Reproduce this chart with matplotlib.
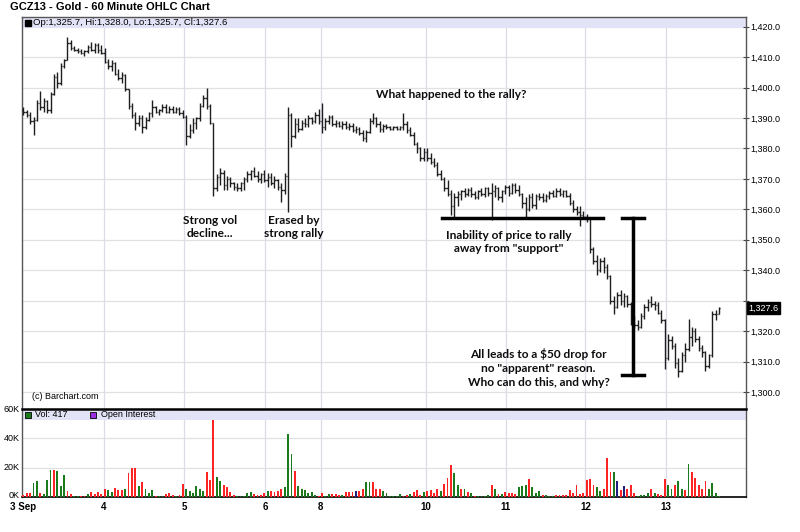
import numpy as np
import matplotlib.pyplot as plt
from matplotlib.collections import LineCollection
from matplotlib.patches import Rectangle
import matplotlib.transforms as mtransforms

# hourly OHLC, one entry per bar (bar index = x position)
opens = [1392.5, 1392.0, 1391.0, 1389.0, 1389.5, 1395.0, 1393.5, 1395.5, 1392.5, 1398.0,
         1403.5, 1401.5, 1407.0, 1409.0, 1414.5, 1413.0, 1412.5, 1412.0, 1411.5, 1412.0,
         1413.5, 1412.5, 1414.0, 1412.5, 1411.5, 1408.5, 1407.0, 1408.0, 1404.5, 1403.0,
         1404.0, 1399.5, 1394.0, 1391.0, 1388.5, 1390.0, 1387.0, 1389.5, 1391.5, 1393.5,
         1392.0, 1392.5, 1393.5, 1392.0, 1393.0, 1392.0, 1393.0, 1391.5, 1390.5, 1384.0,
         1386.0, 1388.5, 1390.0, 1394.0, 1396.5, 1394.0, 1388.5, 1367.0, 1370.5, 1372.0,
         1368.0, 1370.0, 1368.5, 1367.5, 1367.0, 1368.5, 1370.0, 1371.5, 1372.5, 1371.0,
         1370.0, 1371.5, 1369.5, 1370.5, 1368.5, 1369.5, 1367.5, 1366.5, 1371.0, 1391.0,
         1384.0, 1388.0, 1386.5, 1388.5, 1388.0, 1390.0, 1389.0, 1391.0, 1389.0, 1387.0,
         1389.0, 1390.5, 1388.0, 1388.5, 1387.5, 1388.0, 1387.0, 1387.5, 1386.0, 1386.5,
         1385.0, 1383.5, 1385.5, 1389.0, 1390.0, 1388.0, 1386.5, 1387.5, 1387.0, 1386.5,
         1387.0, 1386.5, 1387.0, 1388.0, 1386.0, 1384.5, 1381.5, 1380.0, 1377.0, 1379.0,
         1377.0, 1375.5, 1374.5, 1371.5, 1370.0, 1367.0, 1365.0, 1361.0, 1364.0, 1365.0,
         1366.0, 1365.0, 1366.5, 1365.0, 1364.0, 1366.0, 1365.0, 1367.0, 1365.5, 1366.0,
         1367.0, 1364.0, 1366.0, 1367.5, 1365.5, 1368.0, 1366.5, 1365.0, 1362.0, 1360.0,
         1364.0, 1361.5, 1364.5, 1364.0, 1363.0, 1364.5, 1365.5, 1364.5, 1366.0, 1365.0,
         1366.0, 1364.5, 1362.0, 1360.0, 1359.0, 1358.0, 1357.5, 1357.0, 1347.0, 1343.0,
         1340.0, 1343.0, 1341.0, 1338.0, 1330.0, 1328.0, 1332.0, 1330.0, 1331.5, 1329.0,
         1323.0, 1322.0, 1321.5, 1325.0, 1328.0, 1329.5, 1329.0, 1328.5, 1326.0, 1323.5,
         1311.0, 1317.0, 1315.0, 1309.5, 1307.0, 1312.0, 1314.0, 1318.0, 1320.0, 1317.5,
         1314.5, 1313.0, 1308.5, 1312.0, 1325.5, 1325.7]
highs = [1393.5, 1392.8, 1392.0, 1390.5, 1396.0, 1399.0, 1396.5, 1396.0, 1398.5, 1404.5,
         1405.0, 1408.0, 1409.5, 1416.5, 1415.5, 1413.8, 1413.0, 1412.8, 1412.5, 1414.0,
         1415.0, 1414.5, 1414.5, 1414.0, 1413.0, 1409.5, 1409.0, 1408.5, 1406.0, 1405.0,
         1404.5, 1399.5, 1395.0, 1392.0, 1391.0, 1391.0, 1390.5, 1392.0, 1396.0, 1394.0,
         1393.0, 1394.5, 1394.5, 1394.0, 1394.0, 1393.5, 1393.5, 1392.5, 1391.0, 1388.0,
         1390.0, 1390.5, 1395.0, 1397.5, 1400.0, 1394.5, 1388.5, 1371.5, 1373.5, 1373.0,
         1371.0, 1370.5, 1369.0, 1368.5, 1369.0, 1370.5, 1372.5, 1373.0, 1374.0, 1372.5,
         1372.0, 1373.0, 1372.0, 1372.0, 1371.0, 1370.0, 1368.5, 1372.0, 1393.5, 1391.5,
         1390.0, 1390.0, 1389.5, 1390.0, 1391.0, 1390.5, 1392.0, 1393.0, 1395.0, 1390.0,
         1391.0, 1391.0, 1389.5, 1389.0, 1389.0, 1389.0, 1388.5, 1388.5, 1387.5, 1387.0,
         1386.0, 1386.0, 1390.0, 1391.5, 1390.5, 1389.0, 1388.0, 1388.0, 1387.5, 1387.5,
         1387.5, 1387.5, 1391.5, 1389.0, 1387.0, 1385.5, 1382.0, 1380.5, 1380.0, 1380.0,
         1378.5, 1377.0, 1375.5, 1373.0, 1370.5, 1369.5, 1366.5, 1365.5, 1366.0, 1366.5,
         1367.0, 1367.0, 1367.5, 1366.0, 1366.5, 1367.0, 1367.5, 1367.5, 1368.5, 1368.0,
         1367.5, 1366.5, 1368.0, 1368.0, 1368.5, 1368.5, 1368.0, 1365.5, 1364.0, 1365.0,
         1365.5, 1365.0, 1365.5, 1365.5, 1365.0, 1366.0, 1366.5, 1367.0, 1367.0, 1366.5,
         1366.5, 1365.5, 1363.0, 1361.0, 1361.0, 1359.5, 1358.5, 1357.0, 1347.5, 1345.0,
         1344.0, 1344.5, 1342.0, 1338.5, 1331.5, 1333.0, 1333.5, 1332.5, 1332.0, 1329.5,
         1325.0, 1323.5, 1326.0, 1329.0, 1330.5, 1331.5, 1330.0, 1329.5, 1327.0, 1324.0,
         1319.0, 1318.5, 1316.0, 1311.0, 1313.0, 1316.0, 1324.0, 1321.5, 1321.0, 1318.5,
         1315.5, 1313.5, 1312.5, 1326.5, 1327.0, 1328.0]
lows = [1391.0, 1390.5, 1388.0, 1384.5, 1389.0, 1392.5, 1392.0, 1391.5, 1391.5, 1397.5,
        1400.0, 1401.0, 1406.5, 1409.0, 1412.5, 1412.0, 1411.5, 1411.0, 1410.5, 1411.5,
        1412.0, 1411.5, 1411.5, 1411.0, 1408.0, 1406.0, 1405.5, 1404.0, 1402.5, 1401.5,
        1399.0, 1393.0, 1390.0, 1386.0, 1387.5, 1385.0, 1386.5, 1389.0, 1390.5, 1391.5,
        1391.0, 1392.0, 1391.5, 1391.5, 1391.5, 1391.5, 1391.0, 1390.0, 1381.0, 1383.5,
        1385.0, 1386.5, 1389.0, 1393.5, 1393.0, 1388.0, 1364.5, 1366.0, 1368.0, 1366.5,
        1366.5, 1367.5, 1366.5, 1366.0, 1366.0, 1366.5, 1369.0, 1369.5, 1370.5, 1369.0,
        1368.5, 1369.0, 1367.5, 1368.0, 1367.0, 1366.5, 1362.5, 1365.0, 1359.0, 1380.5,
        1383.5, 1385.5, 1386.0, 1387.0, 1387.0, 1388.0, 1388.5, 1388.0, 1385.0, 1386.0,
        1388.0, 1387.5, 1387.0, 1387.0, 1386.5, 1386.5, 1386.0, 1385.5, 1385.0, 1384.5,
        1382.5, 1382.0, 1385.0, 1388.0, 1387.0, 1385.5, 1385.5, 1386.5, 1386.0, 1386.0,
        1386.0, 1386.0, 1386.0, 1385.0, 1384.0, 1381.0, 1378.5, 1376.0, 1376.0, 1376.0,
        1375.0, 1374.0, 1371.0, 1369.5, 1366.0, 1364.5, 1358.0, 1357.5, 1361.0, 1363.0,
        1364.0, 1364.5, 1364.0, 1363.5, 1363.5, 1364.5, 1364.0, 1364.5, 1356.5, 1364.0,
        1363.0, 1362.5, 1365.0, 1364.5, 1365.0, 1365.5, 1364.5, 1360.5, 1357.5, 1359.5,
        1360.5, 1360.0, 1363.0, 1362.5, 1362.5, 1363.5, 1364.0, 1364.0, 1364.5, 1364.0,
        1364.0, 1361.5, 1359.0, 1358.0, 1354.5, 1357.0, 1356.0, 1345.5, 1342.0, 1338.5,
        1339.5, 1339.0, 1337.0, 1329.0, 1325.5, 1327.5, 1328.5, 1328.0, 1328.0, 1322.0,
        1321.0, 1320.5, 1321.0, 1324.0, 1326.5, 1328.0, 1327.0, 1325.5, 1322.5, 1307.5,
        1310.5, 1314.0, 1308.0, 1305.0, 1306.5, 1310.0, 1313.5, 1315.0, 1316.5, 1313.5,
        1311.5, 1307.0, 1308.0, 1311.5, 1323.5, 1325.7]
closes = [1392.0, 1391.0, 1389.0, 1389.5, 1395.0, 1393.5, 1395.5, 1392.5, 1398.0, 1403.5,
          1401.5, 1407.0, 1409.0, 1414.5, 1413.0, 1412.5, 1412.0, 1411.5, 1412.0, 1413.5,
          1412.5, 1414.0, 1412.5, 1411.5, 1408.5, 1407.0, 1408.0, 1404.5, 1403.0, 1404.0,
          1399.5, 1394.0, 1391.0, 1388.5, 1390.0, 1387.0, 1389.5, 1391.5, 1393.5, 1392.0,
          1392.5, 1393.5, 1392.0, 1393.0, 1392.0, 1393.0, 1391.5, 1390.5, 1384.0, 1386.0,
          1388.5, 1390.0, 1394.0, 1396.5, 1394.0, 1388.5, 1367.0, 1370.5, 1372.0, 1368.0,
          1370.0, 1368.5, 1367.5, 1367.0, 1368.5, 1370.0, 1371.5, 1372.5, 1371.0, 1370.0,
          1371.5, 1369.5, 1370.5, 1368.5, 1369.5, 1367.5, 1366.5, 1371.0, 1391.0, 1384.0,
          1388.0, 1386.5, 1388.5, 1388.0, 1390.0, 1389.0, 1391.0, 1389.0, 1387.0, 1389.0,
          1390.5, 1388.0, 1388.5, 1387.5, 1388.0, 1387.0, 1387.5, 1386.0, 1386.5, 1385.0,
          1383.5, 1385.5, 1389.0, 1390.0, 1388.0, 1386.5, 1387.5, 1387.0, 1386.5, 1387.0,
          1386.5, 1387.0, 1388.0, 1386.0, 1384.5, 1381.5, 1380.0, 1377.0, 1379.0, 1377.0,
          1375.5, 1374.5, 1371.5, 1370.0, 1367.0, 1365.0, 1361.0, 1364.0, 1365.0, 1366.0,
          1365.0, 1366.5, 1365.0, 1364.0, 1366.0, 1365.0, 1367.0, 1365.5, 1366.0, 1367.0,
          1364.0, 1366.0, 1367.5, 1365.5, 1368.0, 1366.5, 1365.0, 1362.0, 1360.0, 1364.0,
          1361.5, 1364.5, 1364.0, 1363.0, 1364.5, 1365.5, 1364.5, 1366.0, 1365.0, 1366.0,
          1364.5, 1362.0, 1360.0, 1359.0, 1358.0, 1357.5, 1357.0, 1347.0, 1343.0, 1340.0,
          1343.0, 1341.0, 1338.0, 1330.0, 1328.0, 1332.0, 1330.0, 1331.5, 1329.0, 1323.0,
          1322.0, 1321.5, 1325.0, 1328.0, 1329.5, 1329.0, 1328.5, 1326.0, 1323.5, 1311.0,
          1317.0, 1315.0, 1309.5, 1307.0, 1312.0, 1314.0, 1318.0, 1320.0, 1317.5, 1314.5,
          1313.0, 1308.5, 1312.0, 1325.5, 1325.7, 1327.6]

# volume in thousands, colour code per bar (g up, r down, b unchanged)
volume = [1.1, 3, 2.7, 9.7, 10.9, 3, 2.2, 11.3, 18.6, 18.6,
          17.5, 7.7, 15, 3.8, 2.2, 0.9, 0.4, 0.8, 0.8, 2.2,
          3.4, 2.2, 3.4, 2.2, 5.7, 5, 3.4, 6.1, 5, 4.5,
          5.4, 16.6, 19.5, 19.5, 7.2, 10.2, 5.7, 3, 4.5, 0.9,
          0.6, 0.6, 2, 2.5, 1.2, 0.8, 1.5, 9.1, 5.7, 3.8,
          2.7, 7.5, 5.2, 4, 17.1, 11.5, 52.7, 13.4, 11, 8,
          6.5, 3.5, 1.5, 0.5, 0.5, 1, 2.5, 3.5, 2, 1.5,
          1.5, 2.5, 4, 4, 3.5, 3.8, 5.5, 6.5, 43, 29,
          17.8, 7.2, 5.5, 4.8, 3, 3.4, 1.5, 0.5, 2.5, 1,
          2.2, 2.2, 2.2, 1.5, 1.5, 3.2, 3.2, 3.5, 4, 4,
          5.5, 10, 10, 10, 5.5, 5.5, 4, 2.5, 1, 0.6,
          0.6, 2.2, 1, 1.5, 2.2, 3.4, 5, 1.5, 3.2, 3.8,
          4.5, 2.7, 5.7, 4, 9.1, 12.9, 21.6, 16.3, 8, 5.2,
          5.7, 3.4, 2.7, 0.9, 0.5, 0.5, 0.8, 1.5, 8.4, 5.7,
          2.2, 1.8, 3.2, 2.7, 3, 2, 6.8, 7.5, 8, 12.5,
          6.8, 2.7, 3.8, 1.5, 1.5, 1, 0.9, 1.1, 1.5, 1.1,
          1.5, 4.5, 2.7, 8.4, 2.2, 2.7, 11.3, 12.5, 8.4, 6.8,
          4, 5.7, 26.8, 17, 17, 10.7, 5, 7.2, 5.2, 8.4,
          2.7, 0.5, 1.5, 1.5, 3, 5.7, 2.7, 2, 1.5, 12.5,
          8, 5.7, 8, 10.7, 5.7, 4.5, 22.2, 17, 13.2, 8.4,
          5.2, 11.1, 5.2, 9.7, 2.7, 0.4]
vol_dir = ("rrrggrgggr" "gggrrggrrg" "rrrrrggrrr" "grrrgrgggr" "ggrrrgrrgg"
           "ggggrrrggr" "rrrgggggrr" "rrgrrrrggg" "rggggggrrg" "grrrgrrrbr"
           "rggrrrgggg" "ggrrgrrrgr" "rrrgrrrggr" "grgrggggrg" "rgrrrrgggr"
           "gggrgggrrr" "rrrrrrrrrg" "grrrgbrbrr" "rggggrgrrr" "ggrggrgrrr"
           "rrgggg")

day_pos = [0, 23.7, 47.4, 71.3, 87.6, 118.5, 142.1, 165.6, 189.3]
day_labels = ['3 Sep', '4', '5', '6', '8', '10', '11', '12', '13']
price_ticks = np.arange(1300, 1421, 10)
vol_ticks = [0, 20, 40, 60]
vol_tick_labels = ['0K', '20K', '40K', '60K']

support_level = 1357.0
support_from, support_to = 123.5, 170.9
drop_top, drop_bottom, drop_x = 1357.0, 1305.5, 179.7

VOL_COLORS = {'g': '#1b7a1b', 'r': '#ff2424', 'b': '#20207a'}
GRID = '#dfe3df'
VGRID = '#dcdce8'
BAND = '#e3e3f7'
FONT = 'Liberation Sans'
NOTE_FONT = 'Lato'

W, H = 800, 532
fig = plt.figure(figsize=(8, 5.32), dpi=100)
L, R = 22, 746
ax = fig.add_axes([L / W, 1 - 409 / H, (R - L) / W, (409 - 17) / H])
axv = fig.add_axes([L / W, 1 - 497 / H, (R - L) / W, (497 - 409) / H], sharex=ax)

n = len(closes)
segs = []
for i in range(n):
    segs.append([(i, lows[i]), (i, highs[i])])
    segs.append([(i - 0.42, opens[i]), (i, opens[i])])
    segs.append([(i, closes[i]), (i + 0.42, closes[i])])
ax.add_collection(LineCollection(segs, colors='#1e1e1e', linewidths=1.0, zorder=3))

ax.set_xlim(-0.4, (R - L) / 3.4)
ax.set_ylim(1294.4, 1423.2)
ax.yaxis.tick_right()
ax.set_yticks(price_ticks)
# the last-price tag takes the place of the label nearest to it
last = closes[-1]
ax.set_yticklabels(['' if abs(p - last) < 4 else '{:,.1f}'.format(p) for p in price_ticks],
                   fontsize=6.5, family=FONT)
ax.tick_params(axis='y', direction='inout', length=4, width=0.8, color='#444444', pad=1)
ax.tick_params(axis='x', length=0, labelbottom=False)
ax.set_xticks(day_pos)
for p in price_ticks:
    ax.axhline(p, color=GRID, lw=0.9, zorder=0)
for d in day_pos[1:]:
    ax.axvline(d, color=VGRID, lw=0.9, zorder=0)
for s in ax.spines.values():
    s.set_color('#555555')
    s.set_linewidth(1.0)
ax.spines['bottom'].set_visible(False)

# header band with last bar values
ax.add_patch(Rectangle((0, 1 - 11 / 392), 1, 11 / 392, transform=ax.transAxes,
                       color=BAND, zorder=1, lw=0))
ax.plot([0.0085], [0.9855], marker='s', ms=4, color='black', transform=ax.transAxes, zorder=4)
ax.text(0.0155, 0.9855, 'Op:1,325.7, Hi:1,328.0, Lo:1,325.7, Cl:1,327.6',
        transform=ax.transAxes, fontsize=6.8, family=FONT, va='center', zorder=4)
ax.text(0.014, 0.031, '(c) Barchart.com', transform=ax.transAxes, fontsize=6.5,
        family=FONT, va='center')

# last price tag on the right axis
trans = mtransforms.blended_transform_factory(ax.transAxes, ax.transData)
ax.text(1.003, last, '{:,.1f}'.format(last), transform=trans, fontsize=6.5,
        family=FONT, color='white', va='center', ha='left',
        bbox=dict(boxstyle='square,pad=0.14', fc='black', ec='black'))

# annotations
ax.plot([support_from, support_to], [support_level, support_level], color='black', lw=2.5, zorder=5)
ax.plot([drop_x, drop_x], [drop_bottom, drop_top], color='black', lw=2.5, zorder=5)
for yv in (drop_top, drop_bottom):
    ax.plot([drop_x - 3.2, drop_x + 3.2], [yv, yv], color='black', lw=2.5, zorder=5)

note = dict(family=NOTE_FONT, fontweight='bold', fontsize=8.6, color='#0c0c0c', zorder=6)
ax.text(103.8, 1397.6, 'What happened to the rally?', ha='left', va='center', **note)
ax.text(55.0, 1354.2, 'Strong vol\ndecline...', ha='center', va='center', linespacing=1.2, **note)
ax.text(79.7, 1354.2, 'Erased by\nstrong rally', ha='center', va='center', linespacing=1.2, **note)
ax.text(143.0, 1349.3, 'Inability of price to rally\naway from "support"', ha='center',
        va='center', linespacing=1.15, **note)
ax.text(151.8, 1307.9, 'All leads to a $50 drop for\nno "apparent" reason.\nWho can do this, and why?',
        ha='center', va='center', linespacing=1.3, **note)

# volume panel
idx = np.arange(n)
axv.bar(idx, volume, width=0.55, color=[VOL_COLORS[c] for c in vol_dir], zorder=3)
axv.set_ylim(0, 60)
axv.set_yticks(vol_ticks)
axv.set_yticklabels([])
axv.tick_params(axis='y', length=0)
vtrans = mtransforms.blended_transform_factory(axv.transAxes, axv.transData)
for v, lab in zip(vol_ticks, vol_tick_labels):
    axv.text(-0.003, max(v, 0.8), lab, transform=vtrans, fontsize=6.5, family=FONT,
             ha='right', va='center')
axv.set_xticks(day_pos)
axv.set_xticklabels(day_labels, fontsize=7, family=FONT, fontweight='bold')
axv.tick_params(axis='x', length=0, pad=3.5)
for v in vol_ticks[1:3]:
    axv.axhline(v, color=GRID, lw=0.9, zorder=0)
for d in day_pos[1:]:
    axv.axvline(d, color=VGRID, lw=0.9, zorder=0)
for s in axv.spines.values():
    s.set_color('#555555')
    s.set_linewidth(1.0)
axv.spines['top'].set_color('black')
axv.spines['top'].set_linewidth(1.8)
axv.spines['bottom'].set_color('black')
axv.spines['bottom'].set_linewidth(1.2)
axv.add_patch(Rectangle((0, 1 - 11 / 88), 1, 11 / 88, transform=axv.transAxes,
                        color=BAND, zorder=1, lw=0))
axv.plot([0.0087], [0.935], marker='s', ms=4.5, mfc='#1b7a1b', mec='black', mew=0.6,
         transform=axv.transAxes, zorder=4)
axv.text(0.018, 0.935, 'Vol: 417', transform=axv.transAxes, fontsize=6.5, family=FONT,
         va='center', zorder=4)
axv.plot([0.0985], [0.935], marker='s', ms=4.5, mfc='#9a2ee0', mec='black', mew=0.6,
         transform=axv.transAxes, zorder=4)
axv.text(0.109, 0.935, 'Open Interest', transform=axv.transAxes, fontsize=6.5, family=FONT,
         va='center', zorder=4)

fig.text(10 / W, 1 - 7 / H, 'GCZ13 - Gold - 60 Minute OHLC Chart', fontsize=8.0,
         family=FONT, fontweight='bold', va='center', ha='left')

fig.savefig('out.png', dpi=100, facecolor='white')
